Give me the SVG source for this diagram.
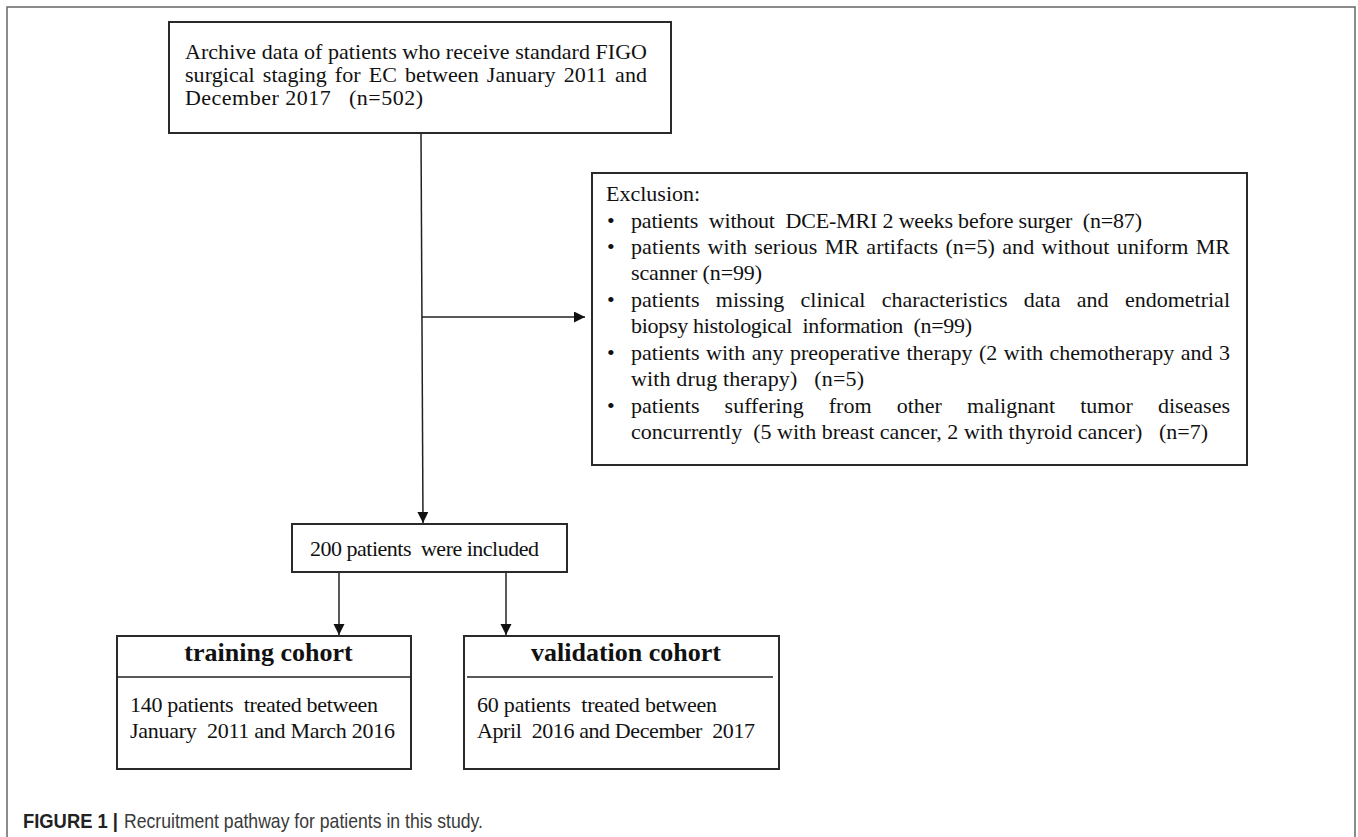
<svg xmlns="http://www.w3.org/2000/svg" width="1358" height="837" viewBox="0 0 1358 837">
  <defs>
    <marker id="arrow" markerUnits="userSpaceOnUse" markerWidth="12" markerHeight="12" refX="11" refY="5.5" orient="auto">
      <path d="M0,0 L11,5.5 L0,11 z" fill="#111"/>
    </marker>
    <style>
      .box { fill: #fff; stroke: #2a2a2a; stroke-width: 2; }
      .frame { fill: none; stroke: #666; stroke-width: 1.5; }
      .conn { fill: none; stroke: #222; stroke-width: 1.5; }
      .t { font-family: "Liberation Serif", "Times New Roman", serif; font-size: 22px; fill: #111; }
      .title { font-family: "Liberation Serif", "Times New Roman", serif; font-size: 26px; font-weight: bold; fill: #111; }
      .cap { font-family: "Liberation Sans Narrow", "Liberation Sans", Arial, sans-serif; font-size: 21px; fill: #3a3a3a; }
      .capb { font-weight: bold; fill: #222; }
    </style>
  </defs>
  <rect width="1358" height="837" fill="#fff"/>
  <path class="frame" d="M7,840 V7 H1355 V840"/>

  <g id="connectors">
    <path class="conn" d="M421,133 L423,523" marker-end="url(#arrow)"/>
    <path class="conn" d="M421.8,317 L585,317" marker-end="url(#arrow)"/>
    <path class="conn" d="M339,572 L339,635" marker-end="url(#arrow)"/>
    <path class="conn" d="M506,572 L506,635" marker-end="url(#arrow)"/>
  </g>

  <g id="node-archive">
    <rect class="box" x="169" y="22" width="502" height="111"/>
    <text class="t" x="185" y="59" textLength="462" lengthAdjust="spacing">Archive data of patients who receive standard FIGO</text>
    <text class="t" x="185" y="82" textLength="462" lengthAdjust="spacing" word-spacing="2.5">surgical staging for EC between January 2011 and</text>
    <text class="t" x="185" y="105" textLength="238" lengthAdjust="spacing" xml:space="preserve">December 2017   (n=502)</text>
  </g>

  <g id="node-exclusion">
    <rect class="box" x="592" y="173" width="655" height="292"/>
    <text class="t" x="606" y="201">Exclusion:</text>
    <text class="t" x="607" y="228">•</text>
    <text class="t" x="631" y="228" textLength="511" lengthAdjust="spacing" xml:space="preserve">patients  without  DCE-MRI 2 weeks before surger  (n=87)</text>
    <text class="t" x="607" y="254">•</text>
    <text class="t" x="631" y="254" textLength="599" lengthAdjust="spacing" word-spacing="1.6">patients with serious MR artifacts (n=5) and without uniform MR</text>
    <text class="t" x="631" y="280" textLength="131" lengthAdjust="spacing">scanner (n=99)</text>
    <text class="t" x="607" y="307">•</text>
    <text class="t" x="631" y="307" textLength="599" lengthAdjust="spacing" word-spacing="10.8">patients missing clinical characteristics data and endometrial</text>
    <text class="t" x="631" y="333" textLength="341" lengthAdjust="spacing" xml:space="preserve">biopsy histological  information  (n=99)</text>
    <text class="t" x="607" y="360">•</text>
    <text class="t" x="631" y="360" textLength="599" lengthAdjust="spacing" word-spacing="1">patients with any preoperative therapy (2 with chemotherapy and 3</text>
    <text class="t" x="631" y="386" textLength="233" lengthAdjust="spacing" xml:space="preserve">with drug therapy)   (n=5)</text>
    <text class="t" x="607" y="413">•</text>
    <text class="t" x="631" y="413" textLength="599" lengthAdjust="spacing" word-spacing="19.6">patients suffering from other malignant tumor diseases</text>
    <text class="t" x="631" y="439" textLength="577" lengthAdjust="spacing" xml:space="preserve">concurrently  (5 with breast cancer, 2 with thyroid cancer)   (n=7)</text>
  </g>

  <g id="node-included">
    <rect class="box" x="292" y="524" width="275" height="48"/>
    <text class="t" x="310" y="556" textLength="229" lengthAdjust="spacing" xml:space="preserve">200 patients  were included</text>
  </g>

  <g id="node-training">
    <rect class="box" x="117" y="636" width="294" height="133"/>
    <line class="conn" x1="117" y1="677" x2="411" y2="677" stroke-width="2"/>
    <text class="title" x="268.5" y="661" text-anchor="middle">training cohort</text>
    <text class="t" x="130" y="712" textLength="248" lengthAdjust="spacing" xml:space="preserve">140 patients  treated between</text>
    <text class="t" x="130" y="738" textLength="265" lengthAdjust="spacing" xml:space="preserve">January  2011 and March 2016</text>
  </g>

  <g id="node-validation">
    <rect class="box" x="464" y="636" width="315" height="133"/>
    <line class="conn" x1="467" y1="677" x2="773" y2="677" stroke-width="2"/>
    <text class="title" x="626" y="661" text-anchor="middle">validation cohort</text>
    <text class="t" x="477" y="712" textLength="240" lengthAdjust="spacing" xml:space="preserve">60 patients  treated between</text>
    <text class="t" x="477" y="738" textLength="278" lengthAdjust="spacing" xml:space="preserve">April  2016 and December  2017</text>
  </g>

  <g id="caption">
    <text class="cap capb" x="23" y="828" textLength="95" lengthAdjust="spacingAndGlyphs">FIGURE 1 |</text>
    <text class="cap" x="124" y="828" textLength="359" lengthAdjust="spacingAndGlyphs">Recruitment pathway for patients in this study.</text>
  </g>
</svg>
